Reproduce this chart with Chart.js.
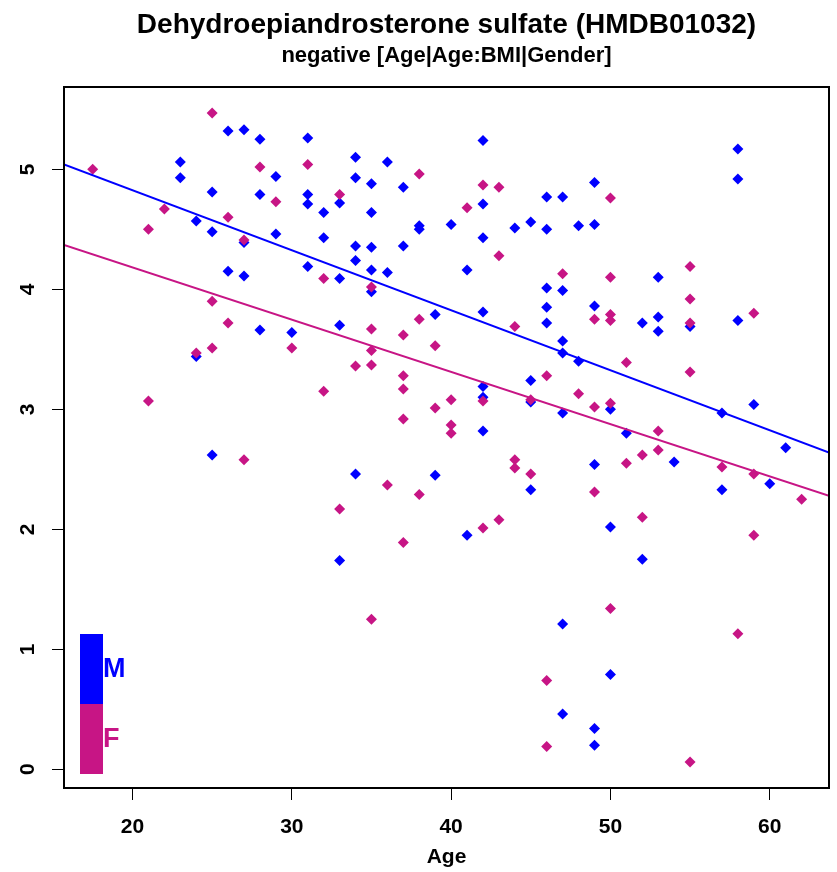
<!DOCTYPE html>
<html><head><meta charset="utf-8">
<script src="https://cdn.jsdelivr.net/npm/chart.js@4"></script>
<style>html,body{margin:0;padding:0;background:#fff}canvas{display:block}</style>
</head><body>
<canvas id="c" width="837" height="872"></canvas>
<script>
const titleText = "Dehydroepiandrosterone sulfate (HMDB01032)";
const subtitleText = "negative [Age|Age:BMI|Gender]";
const xAxisTitle = "Age";
const xTickValues = [20, 30, 40, 50, 60];
const yTickValues = [0, 1, 2, 3, 4, 5];
const legendLabels = ["M", "F"];

// [age, value] pairs
const malePoints = [
  [23,5.06],[23,4.93],[24,4.57],[24,3.44],[25,4.81],[25,4.48],[25,2.62],[26,5.32],[26,4.15],
  [27,5.33],[27,4.39],[27,4.11],[28,5.25],[28,4.79],[28,3.66],[29,4.94],[29,4.46],[30,3.64],
  [31,5.26],[31,4.79],[31,4.71],[31,4.19],[32,4.64],[32,4.43],[33,4.72],[33,4.09],[33,3.70],[33,1.74],
  [34,5.10],[34,4.93],[34,4.36],[34,4.24],[34,2.46],[35,4.88],[35,4.64],[35,4.35],[35,4.16],[35,3.98],
  [36,5.06],[36,4.14],[37,4.85],[37,4.36],[38,4.53],[38,4.50],[39,3.79],[39,2.45],[40,4.54],
  [41,4.16],[41,1.95],[42,5.24],[42,4.71],[42,4.43],[42,3.81],[42,3.19],[42,3.10],[42,2.82],
  [44,4.51],[45,4.56],[45,3.24],[45,3.06],[45,2.33],[46,4.77],[46,4.50],[46,4.01],[46,3.85],[46,3.72],
  [47,4.77],[47,3.99],[47,3.57],[47,3.47],[47,2.97],[47,1.21],[47,0.46],[48,4.53],[48,3.40],
  [49,4.89],[49,4.54],[49,3.86],[49,2.54],[49,0.34],[49,0.20],[50,3.00],[50,2.02],[50,0.79],
  [51,2.80],[52,3.72],[52,1.75],[53,4.10],[53,3.77],[53,3.65],[54,2.56],[55,3.69],
  [57,2.97],[57,2.33],[58,5.17],[58,4.92],[58,3.74],[59,3.04],[60,2.38],[61,2.68]
];
const femalePoints = [
  [17.5,5.00],[21,4.50],[21,3.07],[22,4.67],[24,3.47],[25,5.47],[25,3.90],[25,3.51],[26,4.60],[26,3.72],
  [27,4.41],[27,2.58],[28,5.02],[29,4.73],[30,3.51],[31,5.04],[32,4.09],[32,3.15],[33,4.79],[33,2.17],
  [34,3.36],[35,4.02],[35,3.67],[35,3.49],[35,3.37],[35,1.25],[36,2.37],[37,3.62],[37,3.28],[37,3.17],
  [37,2.92],[37,1.89],[38,4.96],[38,3.75],[38,2.29],[39,3.53],[39,3.01],[40,3.08],[40,2.87],[40,2.80],
  [41,4.68],[42,4.87],[42,3.07],[42,2.01],[43,4.85],[43,4.28],[43,2.08],[44,3.69],[44,2.58],[44,2.51],
  [45,3.08],[45,2.46],[46,3.28],[46,0.74],[46,0.19],[47,4.13],[48,3.13],[49,3.75],[49,3.02],[49,2.31],
  [50,4.76],[50,4.10],[50,3.79],[50,3.74],[50,3.05],[50,1.34],[51,3.39],[51,2.55],[52,2.62],[52,2.10],
  [53,2.82],[53,2.66],[55,4.19],[55,3.92],[55,3.72],[55,3.31],[55,0.06],[57,2.52],[58,1.13],
  [59,3.80],[59,2.46],[59,1.95],[62,2.25]
];
// fitted lines, endpoints at the plot edges
const maleFitLine = [[15.7,5.04],[63.72,2.64]];
const femaleFitLine = [[15.7,4.37],[63.72,2.28]];
const xRange = [15.7, 63.72];
const yRange = [-0.156, 5.686];

const BLUE = '#0000FF';
const PINK = '#C71585';
const FONT = '"Liberation Sans", Arial, Helvetica, sans-serif';
const toXY = arr => arr.map(p => ({x: p[0], y: p[1]}));

const frameAndText = {
  id: 'frameAndText',
  afterDraw(chart) {
    const {ctx, chartArea: a, scales: {x, y}} = chart;
    ctx.save();
    ctx.strokeStyle = '#000';
    ctx.lineWidth = 2;
    ctx.strokeRect(a.left, a.top, a.right - a.left, a.bottom - a.top);
    const cx = (a.left + a.right) / 2;
    ctx.fillStyle = '#000';
    ctx.textAlign = 'center';
    ctx.textBaseline = 'alphabetic';
    ctx.font = 'bold 28px ' + FONT;
    ctx.fillText(titleText, cx, 33);
    ctx.font = 'bold 22px ' + FONT;
    ctx.fillText(subtitleText, cx, 62);
    ctx.font = 'bold 21px ' + FONT;
    x.ticks.forEach(t => ctx.fillText(String(t.value), x.getPixelForValue(t.value), a.bottom + 45));
    ctx.fillText(xAxisTitle, cx, a.bottom + 75);
    y.ticks.forEach(t => {
      ctx.save();
      ctx.translate(a.left - 30.5, y.getPixelForValue(t.value));
      ctx.rotate(-Math.PI / 2);
      ctx.fillText(String(t.value), 0, 0);
      ctx.restore();
    });
    // legend
    const lx = a.left + 16, lw = 23, lh = 70, ly = 634;
    ctx.fillStyle = BLUE;
    ctx.fillRect(lx, ly, lw, lh);
    ctx.fillStyle = PINK;
    ctx.fillRect(lx, ly + lh, lw, lh);
    ctx.font = 'bold 27px ' + FONT;
    ctx.textAlign = 'left';
    ctx.textBaseline = 'middle';
    ctx.fillStyle = BLUE;
    ctx.fillText(legendLabels[0], lx + lw, ly + lh / 2 + 1);
    ctx.fillStyle = PINK;
    ctx.fillText(legendLabels[1], lx + lw, ly + lh * 1.5 + 1);
    ctx.restore();
  }
};

new Chart(document.getElementById('c'), {
  type: 'scatter',
  data: {
    datasets: [
      {data: toXY(maleFitLine), showLine: true, borderColor: BLUE, borderWidth: 2, pointRadius: 0, order: 0},
      {data: toXY(femaleFitLine), showLine: true, borderColor: PINK, borderWidth: 2, pointRadius: 0, order: 0},
      {data: toXY(femalePoints), pointStyle: 'rectRot', pointRadius: 5.5, backgroundColor: PINK, borderWidth: 0, order: 1},
      {data: toXY(malePoints), pointStyle: 'rectRot', pointRadius: 5.5, backgroundColor: BLUE, borderWidth: 0, order: 2}
    ]
  },
  options: {
    responsive: false,
    animation: false,
    layout: {padding: {left: 0, top: 87, right: 8, bottom: 0}},
    plugins: {legend: {display: false}, tooltip: {enabled: false}, title: {display: false}},
    scales: {
      x: {
        type: 'linear', min: xRange[0], max: xRange[1],
        afterBuildTicks: s => { s.ticks = xTickValues.map(v => ({value: v})); },
        afterFit: s => { s.height = 84; },
        ticks: {display: false},
        grid: {drawOnChartArea: false, drawTicks: true, tickLength: 12, color: '#000', lineWidth: 1},
        border: {display: false}
      },
      y: {
        type: 'linear', min: yRange[0], max: yRange[1],
        afterBuildTicks: s => { s.ticks = yTickValues.map(v => ({value: v})); },
        afterFit: s => { s.width = 64; },
        ticks: {display: false},
        grid: {drawOnChartArea: false, drawTicks: true, tickLength: 12, color: '#000', lineWidth: 1},
        border: {display: false}
      }
    }
  },
  plugins: [frameAndText]
});
</script>
</body></html>
